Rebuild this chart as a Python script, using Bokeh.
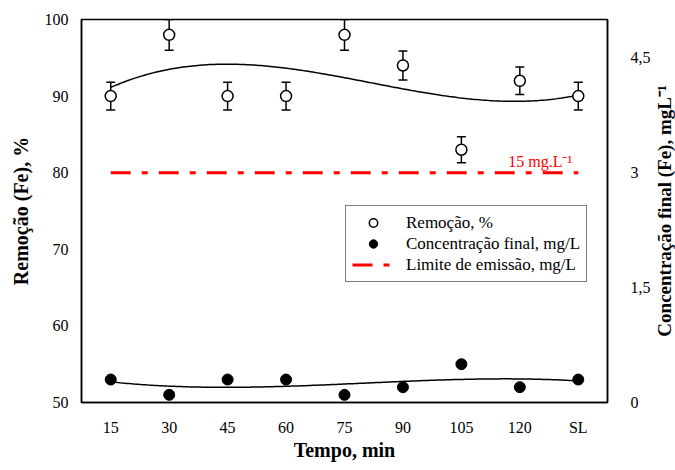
import numpy as np
from bokeh.plotting import figure
from bokeh.layouts import row
from bokeh.core.properties import value
from bokeh.models import (Range1d, LinearAxis, FixedTicker, Whisker, TeeHead,
                          ColumnDataSource, Legend, LegendItem, Label)
from bokeh.embed import file_html
from bokeh.resources import INLINE

# ---- data ----
categories = ["15", "30", "45", "60", "75", "90", "105", "120", "SL"]
removal = [90, 98, 90, 90, 98, 94, 83, 92, 90]          # %
removal_err = [1.8, 2.0, 1.8, 1.8, 2.0, 1.9, 1.7, 1.8, 1.8]
conc_final = [0.3, 0.1, 0.3, 0.3, 0.1, 0.2, 0.5, 0.2, 0.3]  # mg/L
limit_value = 3.0                                         # mg/L
limit_text = "15 mg.L\u207b\u00b9"
left_ticks = [50, 60, 70, 80, 90, 100]
right_ticks = [0, 1.5, 3, 4.5]
right_tick_labels = ["0", "1,5", "3", "4,5"]
right_title = "Concentração final (Fe), mgL\u207b\u00b9"

FONT = "Liberation Serif"

xpos = list(range(1, len(categories) + 1))
conc_rng = Range1d(0, 5)

main = figure(frame_width=526, frame_height=383, output_backend="svg",
              toolbar_location=None, title=None,
              x_range=Range1d(0.5, len(categories) + 0.5),
              y_range=Range1d(50, 100),
              min_border_left=81, min_border_top=19,
              min_border_right=44, min_border_bottom=66)
main.extra_y_ranges = {"conc": conc_rng}
main.xgrid.visible = False
main.ygrid.visible = False
main.outline_line_color = "black"
main.outline_line_width = 1.5
main.outline_line_alpha = 1.0

# axes
main.xaxis.ticker = FixedTicker(ticks=xpos)
main.xaxis.major_label_overrides = {x: c for x, c in zip(xpos, categories)}
main.yaxis.ticker = FixedTicker(ticks=left_ticks)
main.xaxis.axis_label = "Tempo, min"
main.yaxis.axis_label = "Remoção (Fe), %"

raxis = LinearAxis(y_range_name="conc",
                   ticker=FixedTicker(ticks=right_ticks),
                   major_label_overrides={t: l for t, l in zip(right_ticks, right_tick_labels)})
main.add_layout(raxis, "right")

for ax in [main.xaxis[0], main.yaxis[0], raxis]:
    ax.axis_line_color = "black"
    ax.axis_line_width = 1.5
    ax.major_tick_line_color = None
    ax.minor_tick_line_color = None
    ax.major_tick_out = 0
    ax.major_tick_in = 0
    ax.minor_tick_out = 0
    ax.minor_tick_in = 0
    ax.major_label_text_font = FONT
    ax.major_label_text_font_size = "16px"
    ax.major_label_text_color = "black"
    ax.axis_label_text_font = FONT
    ax.axis_label_text_font_size = "20px"
    ax.axis_label_text_font_style = "bold"
    ax.axis_label_text_color = "black"

main.yaxis[0].major_label_standoff = 13
main.yaxis[0].axis_label_standoff = 10
main.xaxis[0].major_label_standoff = 16
main.xaxis[0].axis_label_standoff = 0
raxis.major_label_standoff = 23

# trend lines (cubic least-squares fits of the data)
xf = np.linspace(xpos[0], xpos[-1], 200)
rem_fit = np.polyval(np.polyfit(xpos, removal, 3), xf)
conc_fit = np.polyval(np.polyfit(xpos, conc_final, 3), xf)
main.line(xf, rem_fit, line_color="black", line_width=1.5)
main.line(xf, conc_fit, line_color="black", line_width=1.5, y_range_name="conc")

# error bars
src = ColumnDataSource(dict(
    x=xpos, y=removal,
    upper=[v + e for v, e in zip(removal, removal_err)],
    lower=[v - e for v, e in zip(removal, removal_err)]))
wh = Whisker(base="x", upper="upper", lower="lower", source=src,
             line_color="black", line_width=1.5,
             upper_head=TeeHead(size=9, line_color="black", line_width=1.5),
             lower_head=TeeHead(size=9, line_color="black", line_width=1.5))
main.add_layout(wh)

# limit line
lim = main.line([xpos[0], xpos[-1]], [limit_value, limit_value], y_range_name="conc",
                line_color="#ff0000", line_width=3, line_dash="20 11 6 11")

# markers
r_rem = main.scatter("x", "y", source=src, size=11, marker="circle",
                     fill_color="white", line_color="black", line_width=1.5)
r_conc = main.scatter(xpos, conc_final, y_range_name="conc", size=11, marker="circle",
                      fill_color="black", line_color="black")

lbl = Label(x=xpos[-1], y=limit_value, y_range_name="conc", text=limit_text,
            text_align="right", text_baseline="bottom", x_offset=-6, y_offset=3,
            text_font=FONT, text_font_size="16px", text_color="#ff0000")
main.add_layout(lbl)

legend = Legend(items=[
    LegendItem(label="Remoção, %", renderers=[r_rem]),
    LegendItem(label="Concentração final, mg/L", renderers=[r_conc]),
    LegendItem(label="Limite de emissão, mg/L", renderers=[lim]),
], location=(264, 120))
legend.label_text_font = FONT
legend.label_text_font_size = "17px"
legend.label_text_color = "black"
legend.border_line_color = "black"
legend.border_line_width = 1
legend.background_fill_alpha = 1
legend.padding = 6
legend.spacing = 0
legend.margin = 0
legend.label_height = 21
legend.glyph_height = 21
legend.glyph_width = 42
legend.label_standoff = 12
main.add_layout(legend, "center")

# right-hand axis title in a narrow strip, reading bottom-to-top
side = figure(frame_width=22, frame_height=383, output_backend="svg",
              toolbar_location=None, title=None,
              x_range=Range1d(0, 1), y_range=conc_rng,
              x_axis_location=None, y_axis_location=None,
              min_border_left=0, min_border_right=0,
              min_border_top=19, min_border_bottom=66)
side.xgrid.visible = False
side.ygrid.visible = False
side.outline_line_color = None
side.text(x=[(side.x_range.start + side.x_range.end) / 2],
          y=[(conc_rng.start + conc_rng.end) / 2],
          text=[right_title], angle=np.pi / 2,
          text_align="center", text_baseline="middle",
          text_font=value(FONT), text_font_size="19px", text_font_style="bold",
          text_color="black")

p = row(main, side, spacing=0)

open("out.html", "w").write(file_html(p, INLINE))
